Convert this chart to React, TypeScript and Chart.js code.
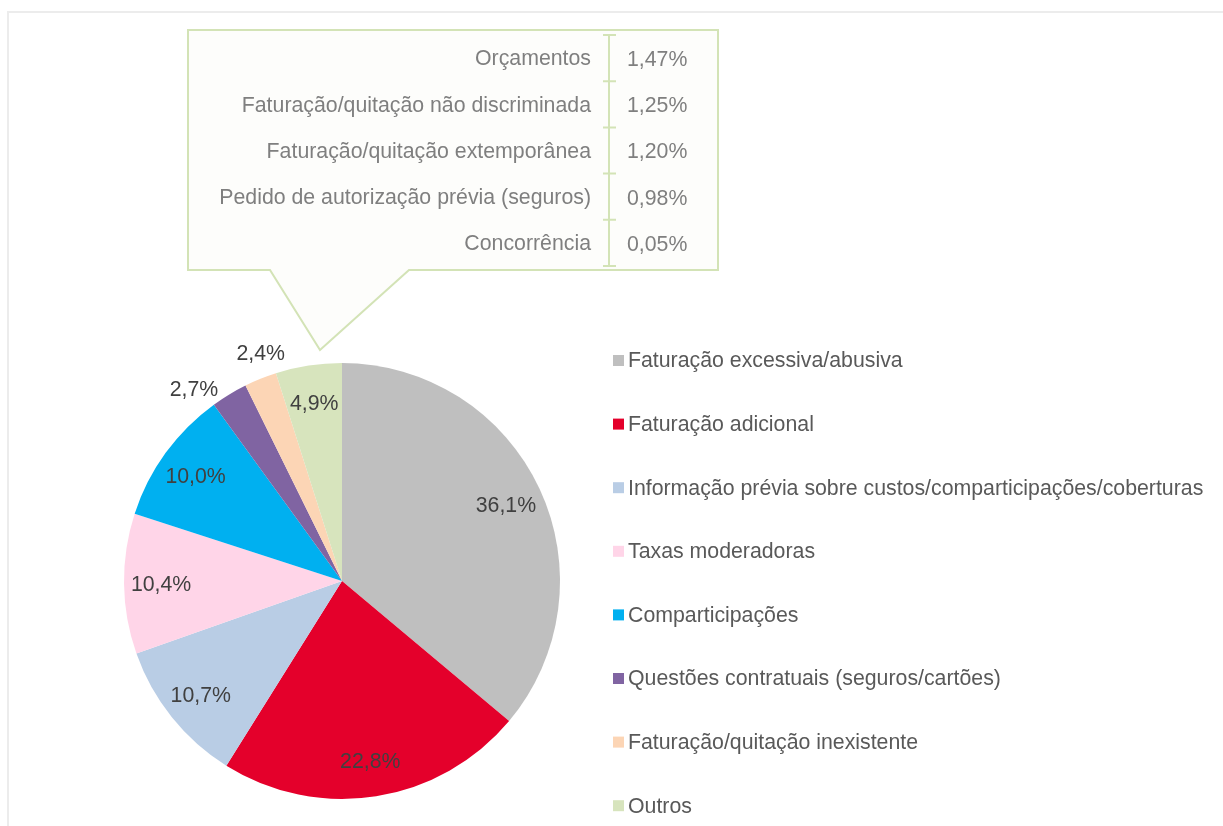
import React, { useEffect, useRef } from "react";
import { Chart, registerables } from "chart.js";

Chart.register(...registerables);

const categories = [
  "Faturação excessiva/abusiva",
  "Faturação adicional",
  "Informação prévia sobre custos/comparticipações/coberturas",
  "Taxas moderadoras",
  "Comparticipações",
  "Questões contratuais (seguros/cartões)",
  "Faturação/quitação inexistente",
  "Outros",
];
const values = [36.1, 22.8, 10.7, 10.4, 10.0, 2.7, 2.4, 4.9];
const colors = [
  "#BFBFBF",
  "#E4002B",
  "#B9CDE5",
  "#FFD5E8",
  "#00B0F0",
  "#8064A2",
  "#FCD5B5",
  "#D7E4BD",
];
const otherLabels = [
  "Orçamentos",
  "Faturação/quitação não discriminada",
  "Faturação/quitação extemporânea",
  "Pedido de autorização prévia (seguros)",
  "Concorrência",
];
const otherValues = [1.47, 1.25, 1.2, 0.98, 0.05];

const FONT = '"Liberation Sans", Arial, sans-serif';
const FS = "21.3px ";
const fmt1 = (v: number) => v.toFixed(1).replace(".", ",") + "%";
const fmt2 = (v: number) => v.toFixed(2).replace(".", ",") + "%";

const decorPlugin = {
  id: "decor",
  beforeDraw(chart: any) {
    const ctx = chart.ctx;
    ctx.save();
    ctx.fillStyle = "#ffffff";
    ctx.fillRect(0, 0, chart.width, chart.height);
    ctx.strokeStyle = "#ECECEC";
    ctx.lineWidth = 2;
    ctx.beginPath();
    ctx.moveTo(8, chart.height + 5);
    ctx.lineTo(8, 12);
    ctx.lineTo(chart.width + 5, 12);
    ctx.stroke();

    // callout
    ctx.beginPath();
    ctx.moveTo(188, 30);
    ctx.lineTo(718, 30);
    ctx.lineTo(718, 270);
    ctx.lineTo(409, 270);
    ctx.lineTo(320, 350);
    ctx.lineTo(270, 270);
    ctx.lineTo(188, 270);
    ctx.closePath();
    ctx.fillStyle = "#FDFDFB";
    ctx.fill();
    ctx.strokeStyle = "#D3E3B6";
    ctx.lineWidth = 2;
    ctx.stroke();

    // table separator
    ctx.beginPath();
    ctx.moveTo(609, 35);
    ctx.lineTo(609, 266);
    const n = otherLabels.length;
    const step = (266 - 35) / n;
    for (let i = 0; i <= n; i++) {
      const y = 35 + i * step;
      ctx.moveTo(603, y);
      ctx.lineTo(616, y);
    }
    ctx.stroke();

    ctx.font = FS + FONT;
    ctx.fillStyle = "#7F7F7F";
    ctx.textBaseline = "middle";
    for (let i = 0; i < n; i++) {
      const y = 35 + step * (i + 0.5);
      ctx.textAlign = "right";
      ctx.fillText(otherLabels[i], 591, y + 1.5);
      ctx.textAlign = "left";
      ctx.fillText(fmt2(otherValues[i]), 627, y + 2);
    }
    ctx.restore();
  },
  afterDraw(chart: any) {
    const ctx = chart.ctx;
    const meta = chart.getDatasetMeta(0);
    ctx.save();
    ctx.font = FS + FONT;
    ctx.fillStyle = "#404040";
    ctx.textAlign = "center";
    ctx.textBaseline = "middle";

    const mids = meta.data.map((a: any) => (a.startAngle + a.endAngle) / 2);
    const outside = values.map((v) => v < 3);
    const angles = mids.slice();
    for (let i = 0; i < values.length - 1; i++) {
      if (outside[i] && outside[i + 1]) {
        const sep = angles[i + 1] - angles[i];
        const need = (18 * Math.PI) / 180;
        if (sep < need) {
          const c = (angles[i] + angles[i + 1]) / 2 - (2 * Math.PI) / 180;
          angles[i] = c - need / 2;
          angles[i + 1] = c + need / 2;
        }
      }
    }
    meta.data.forEach((arc: any, i: number) => {
      const r = arc.outerRadius;
      const d = outside[i] ? r + 25 : r * 0.83;
      const x = arc.x + Math.cos(angles[i]) * d;
      const y = arc.y + Math.sin(angles[i]) * d;
      ctx.fillText(fmt1(values[i]), x, y + 2);
    });

    // legend
    ctx.textAlign = "left";
    categories.forEach((c, i) => {
      const y = 360.5 + i * 63.6;
      ctx.fillStyle = colors[i];
      ctx.fillRect(613, y - 5.5, 11, 11);
      ctx.fillStyle = "#595959";
      ctx.fillText(c, 628, y + 1);
    });
    ctx.restore();
  },
};

export default function App() {
  const ref = useRef<HTMLCanvasElement | null>(null);
  useEffect(() => {
    if (!ref.current) return;
    const chart = new Chart(ref.current, {
      type: "pie",
      data: {
        labels: categories,
        datasets: [
          {
            data: values,
            backgroundColor: colors,
            borderWidth: 0,
          },
        ],
      },
      options: {
        responsive: false,
        animation: false,
        layout: { padding: { left: 124, right: 663, top: 363, bottom: 27 } },
        plugins: {
          legend: { display: false },
          tooltip: { enabled: false },
        },
      },
      plugins: [decorPlugin],
    });
    return () => chart.destroy();
  }, []);
  return (
    <div style={{ position: "fixed", left: 0, top: 0, width: 1223, height: 826 }}>
      <canvas ref={ref} width={1223} height={826} />
    </div>
  );
}
